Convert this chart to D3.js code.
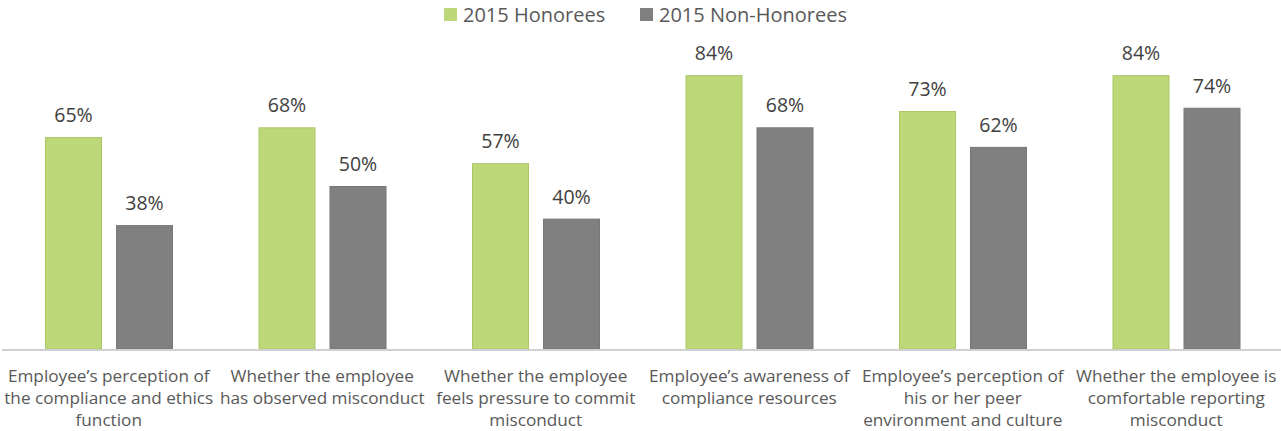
<!DOCTYPE html>
<html>
<head>
<meta charset="utf-8">
<script src="https://cdn.jsdelivr.net/npm/d3@7"></script>
<style>
  body { margin: 0; background: #fff; }
  text { font-family: "Open Sans", "Noto Sans", sans-serif; fill: #595959; }
</style>
</head>
<body>
<svg id="chart" width="1281" height="431"></svg>
<script>
// chart data
var categories = [
  ["Employee\u2019s perception of", "the compliance and ethics", "function"],
  ["Whether the employee", "has observed misconduct"],
  ["Whether the employee", "feels pressure to commit", "misconduct"],
  ["Employee\u2019s awareness of", "compliance resources"],
  ["Employee\u2019s perception of", "his or her peer", "environment and culture"],
  ["Whether the employee is", "comfortable reporting", "misconduct"]
];
var seriesNames = ["2015 Honorees", "2015 Non-Honorees"];
var honorees = [65, 68, 57, 84, 73, 84];
var nonHonorees = [38, 50, 40, 68, 62, 74];

var colors = ["#bdd879", "#808080"];
var strokes = ["#aac765", "#777777"];

var svg = d3.select("#chart");
var W = 1281, baseY = 349;

var ids = categories.map(function (c, i) { return i; });
var x = d3.scaleBand().domain(ids).range([0, W]);
var xs = d3.scaleBand().domain([0, 1]).range([45, 173]).paddingInner(0.197);
var y = d3.scaleLinear().domain([0, 100]).range([baseY, 23]);

var data = [];
ids.forEach(function (i) {
  data.push({ cat: i, s: 0, v: honorees[i] });
  data.push({ cat: i, s: 1, v: nonHonorees[i] });
});

// bars
svg.append("g").selectAll("rect")
  .data(data)
  .enter()
  .append("rect")
  .attr("x", d => x(d.cat) + xs(d.s) + 0.5)
  .attr("y", d => y(d.v) + 0.5)
  .attr("width", xs.bandwidth() - 1)
  .attr("height", d => baseY - y(d.v) - 0.5)
  .attr("fill", d => colors[d.s])
  .attr("stroke", d => strokes[d.s])
  .attr("stroke-width", 1);

// value labels
svg.append("g").selectAll("text")
  .data(data)
  .enter()
  .append("text")
  .attr("x", d => x(d.cat) + xs(d.s) + xs.bandwidth() / 2)
  .attr("y", d => y(d.v) - 15)
  .attr("text-anchor", "middle")
  .style("font-size", "19.5px")
  .style("fill", "#404040")
  .text(d => d.v + "%");

// axis line
svg.append("line")
  .attr("x1", 2).attr("x2", W)
  .attr("y1", baseY + 1).attr("y2", baseY + 1)
  .attr("stroke", "#d0d0d0")
  .attr("stroke-width", 2);

// category labels
var lab = svg.append("g").selectAll("text")
  .data(categories)
  .enter()
  .append("text")
  .attr("text-anchor", "middle")
  .style("font-size", "17.2px");
lab.selectAll("tspan")
  .data((d, i) => d.map(function (t) { return { t: t, i: i }; }))
  .enter()
  .append("tspan")
  .attr("x", d => x(d.i) + x.bandwidth() / 2 + 2)
  .attr("y", (d, j) => 382 + j * 22)
  .text(d => d.t);

// legend
var legX = [444, 640];
var leg = svg.append("g").selectAll("g")
  .data(seriesNames)
  .enter()
  .append("g")
  .attr("transform", (d, i) => "translate(" + legX[i] + ",0)");
leg.append("rect")
  .attr("x", 0).attr("y", 8)
  .attr("width", 13).attr("height", 13)
  .attr("fill", (d, i) => colors[i]);
leg.append("text")
  .attr("x", 19).attr("y", 22)
  .style("font-size", "20px")
  .text(d => d);
</script>
</body>
</html>
